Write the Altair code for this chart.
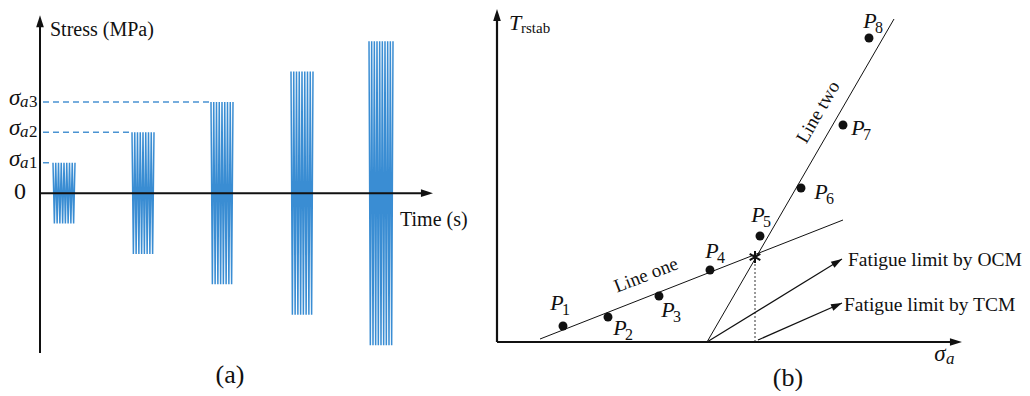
import math
import altair as alt
import pandas as pd

# ---------------- Panel (a): stepped constant-amplitude loading ----------------
block_start = [1.3, 9.2, 17.1, 25.1, 32.9]      # s
block_dur = [2.2, 2.2, 2.2, 2.2, 2.4]           # s
block_amp = [100, 200, 300, 400, 500]           # MPa
block_cycles = [8, 8, 8, 8, 9]

sigma_sub = ["1", "2", "3"]
sigma_level = [100, 200, 300]
sigma_end = [1.3, 9.2, 17.1]

A_X = [-3.2, 45.0]
A_Y = [-641, 609]

# ---------------- Panel (b): T_rstab vs sigma_a ----------------
p_name = ["1", "2", "3", "4", "5", "6", "7", "8"]
p_x = [6.6, 11.1, 16.2, 21.3, 26.3, 30.4, 34.6, 37.2]
p_y = [1.6, 2.5, 4.6, 7.2, 10.6, 15.4, 21.7, 30.4]
p_lx = [6.0, 12.3, 17.1, 21.5, 26.1, 32.4, 36.1, 37.3]
p_ly = [3.9, 1.4, 3.2, 9.1, 12.7, 15.0, 21.4, 32.1]

line_one = [4.3, 0.3, 34.6, 12.2]
line_two = [21.0, 0.0, 39.7, 32.3]
ocm_arrow = [21.0, 0.0, 34.5, 8.3]
tcm_arrow = [26.1, 0.2, 34.5, 3.9]
star = [25.8, 8.5]

B_X = [-0.7, 52.5]
B_Y = [-4.6, 33.4]

FONT = "Liberation Serif"
BLUE = "#3a8dd3"
ARROW = "M0,0L-2.2,-0.7L-2.2,0.7Z"
STAR = "M0,-1L0,1M-0.87,-0.5L0.87,0.5M-0.87,0.5L0.87,-0.5"


def xs(dom):
    return alt.Scale(domain=dom, nice=False, zero=False)


def enc(dom_x, dom_y, x="x", y="y", **kw):
    return dict(
        x=alt.X(f"{x}:Q", scale=xs(dom_x), axis=None),
        y=alt.Y(f"{y}:Q", scale=xs(dom_y), axis=None),
        **kw,
    )


def rules(df, dom_x, dom_y, **mk):
    return alt.Chart(df).mark_rule(**mk).encode(
        **enc(dom_x, dom_y), x2="x2:Q", y2="y2:Q"
    )


def heads(df, dom_x, dom_y, size=120):
    return alt.Chart(df).mark_point(
        shape=ARROW, filled=True, color="#111", opacity=1, size=size
    ).encode(**enc(dom_x, dom_y), angle=alt.Angle("ang:Q", scale=None))


def texts(df, dom_x, dom_y, **mk):
    base = dict(font=FONT, color="#111", baseline="middle")
    base.update(mk)
    return alt.Chart(df).mark_text(**base).encode(**enc(dom_x, dom_y), text="t:N")


# ---- panel (a) layers
rows = []
for b, (s, d, a, n) in enumerate(zip(block_start, block_dur, block_amp, block_cycles)):
    k = 2 * n
    for i in range(k + 1):
        rows.append({"b": b, "i": i, "x": s + d * i / k, "y": a if i % 2 == 0 else -a})
sig = pd.DataFrame(rows)

signal = alt.Chart(sig).mark_line(color=BLUE, strokeWidth=1.5).encode(
    **enc(A_X, A_Y), detail="b:N", order="i:Q"
)

dash_df = pd.DataFrame({"x": [0.3] * 3, "x2": sigma_end, "y": sigma_level, "y2": sigma_level})
dashes = rules(dash_df, A_X, A_Y, color="#4a93d2", strokeWidth=1.5, strokeDash=[6, 4])

a_axes = pd.DataFrame({"x": [0, 0], "y": [-526, 0], "x2": [0, 38.6], "y2": [565, 0]})
a_axes_l = rules(a_axes, A_X, A_Y, color="#111", strokeWidth=2)
a_heads = heads(pd.DataFrame({"x": [0, 39.3], "y": [585, 0], "ang": [270, 0]}), A_X, A_Y)

a_sig_sym = texts(pd.DataFrame({"x": [-3.1] * 3, "y": sigma_level, "t": ["σ"] * 3}),
                  A_X, A_Y, fontSize=23, fontStyle="italic", align="left", dy=-4)
a_sig_a = texts(pd.DataFrame({"x": [-3.1] * 3, "y": sigma_level, "t": ["a"] * 3}),
                A_X, A_Y, fontSize=17, fontStyle="italic", align="left", dx=11, dy=0)
a_sig_n = texts(pd.DataFrame({"x": [-3.1] * 3, "y": sigma_level, "t": sigma_sub}),
                A_X, A_Y, fontSize=17, align="left", dx=20, dy=0)

a_labels_l = texts(pd.DataFrame({"x": [1.0, 36.0], "y": [536, -89],
                                 "t": ["Stress (MPa)", "Time (s)"]}),
                   A_X, A_Y, fontSize=20, align="left")
a_labels_c = texts(pd.DataFrame({"x": [-2.0], "y": [3], "t": ["0"]}),
                   A_X, A_Y, fontSize=24, align="center")
a_cap = texts(pd.DataFrame({"x": [19.0], "y": [-599], "t": ["(a)"]}),
              A_X, A_Y, fontSize=26, align="center")

panel_a = alt.layer(
    dashes, signal, a_axes_l, a_heads, a_sig_sym, a_sig_a, a_sig_n, a_labels_l, a_labels_c, a_cap
).properties(width=482, height=380)

# ---- panel (b) layers
def seg(v):
    return {"x": v[0], "y": v[1], "x2": v[2], "y2": v[3]}


thin = pd.DataFrame([seg(line_one), seg(line_two)])
thin_l = rules(thin, B_X, B_Y, color="#111", strokeWidth=1)

arr = pd.DataFrame([seg(ocm_arrow), seg(tcm_arrow)])
arr_l = rules(arr, B_X, B_Y, color="#111", strokeWidth=1.2)
arr_h = pd.DataFrame({
    "x": [ocm_arrow[2], tcm_arrow[2]],
    "y": [ocm_arrow[3], tcm_arrow[3]],
    "ang": [math.degrees(math.atan2(-(v[3] - v[1]), v[2] - v[0])) % 360 for v in (ocm_arrow, tcm_arrow)],
})
arr_hl = heads(arr_h, B_X, B_Y, size=100)

dotted = rules(pd.DataFrame([{"x": star[0], "y": 0, "x2": star[0], "y2": star[1]}]),
               B_X, B_Y, color="#333", strokeWidth=1, strokeDash=[2, 2])

b_axes = pd.DataFrame({"x": [0, 0], "y": [0, 0], "x2": [0, 45.9], "y2": [32.7, 0]})
b_axes_l = rules(b_axes, B_X, B_Y, color="#111", strokeWidth=2.2)
b_heads = heads(pd.DataFrame({"x": [0, 46.5], "y": [33.3, 0], "ang": [270, 0]}), B_X, B_Y)

pts = pd.DataFrame({"x": p_x, "y": p_y})
pts_l = alt.Chart(pts).mark_circle(color="#111", opacity=1, size=80).encode(**enc(B_X, B_Y))

star_l = alt.Chart(pd.DataFrame({"x": [star[0]], "y": [star[1]]})).mark_point(
    shape=STAR, filled=False, color="#111", strokeWidth=2, size=150, opacity=1
).encode(**enc(B_X, B_Y))

lbl = pd.DataFrame({"x": p_lx, "y": p_ly})
p_P = texts(lbl.assign(t="P"), B_X, B_Y, fontSize=22, fontStyle="italic", align="center")
p_n = texts(lbl.assign(t=p_name), B_X, B_Y, fontSize=16, align="left", dx=5, dy=7)

t_T = texts(pd.DataFrame({"x": [1.8], "y": [31.9], "t": ["T"]}), B_X, B_Y,
            fontSize=22, fontStyle="italic", align="center")
t_sub = texts(pd.DataFrame({"x": [1.8], "y": [31.9], "t": ["rstab"]}), B_X, B_Y,
              fontSize=15, align="left", dx=6, dy=5)
s_sig = texts(pd.DataFrame({"x": [44.3], "y": [-1.2], "t": ["σ"]}), B_X, B_Y,
              fontSize=23, fontStyle="italic", align="center")
s_a = texts(pd.DataFrame({"x": [44.3], "y": [-1.2], "t": ["a"]}), B_X, B_Y,
            fontSize=17, fontStyle="italic", align="left", dx=6, dy=5)

fat = texts(pd.DataFrame({"x": [35.1, 34.7], "y": [8.2, 3.7],
                          "t": ["Fatigue limit by OCM", "Fatigue limit by TCM"]}),
            B_X, B_Y, fontSize=19.5, align="left")
b_cap = texts(pd.DataFrame({"x": [29.1], "y": [-3.6], "t": ["(b)"]}), B_X, B_Y,
              fontSize=26, align="center")

ang1 = math.degrees(math.atan2(-(line_one[3] - line_one[1]), line_one[2] - line_one[0])) % 360
ang2 = math.degrees(math.atan2(-(line_two[3] - line_two[1]), line_two[2] - line_two[0])) % 360
l1 = texts(pd.DataFrame({"x": [14.9], "y": [6.7], "t": ["Line one"]}), B_X, B_Y,
           fontSize=19, align="center", angle=ang1)
l2 = texts(pd.DataFrame({"x": [32.1], "y": [23.0], "t": ["Line two"]}), B_X, B_Y,
           fontSize=19, align="center", angle=ang2)

panel_b = alt.layer(
    dotted, thin_l, arr_l, arr_hl, b_axes_l, b_heads, pts_l, star_l,
    p_P, p_n, t_T, t_sub, s_sig, s_a, fat, b_cap, l1, l2
).properties(width=532, height=380)

chart = alt.hconcat(panel_a, panel_b, spacing=0).properties(padding=0).configure_view(stroke=None)

chart.save("out.html", embed_options={"renderer": "svg", "actions": False})
